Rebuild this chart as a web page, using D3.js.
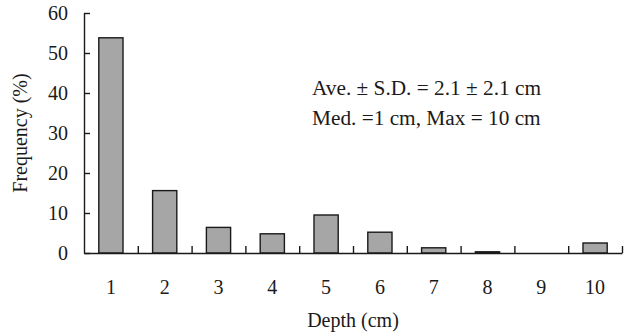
<!DOCTYPE html>
<html>
<head>
<meta charset="utf-8">
<script src="https://cdn.jsdelivr.net/npm/d3@7"></script>
<style>
  body { margin: 0; background: #fff; }
  svg text { font-family: "Liberation Serif", "Times New Roman", serif; fill: #1a1a1a; }
</style>
</head>
<body>
<div id="chart"></div>
<script>
// data
var depths = [1, 2, 3, 4, 5, 6, 7, 8, 9, 10];
var freq = [53.8, 15.6, 6.4, 4.8, 9.5, 5.2, 1.3, 0.3, 0, 2.5];
var yTicks = [0, 10, 20, 30, 40, 50, 60];
var notes = ["Ave. \u00b1 S.D. = 2.1 \u00b1 2.1 cm", "Med. =1 cm, Max = 10 cm"];

var width = 630, height = 335;
var plotLeft = 84, plotRight = 622, plotTop = 13, plotBottom = 253;

var svg = d3.select("#chart").append("svg")
    .attr("width", width)
    .attr("height", height);

var x = d3.scaleLinear().domain([0.5, 10.5]).range([plotLeft, plotRight]);
var y = d3.scaleLinear().domain([0, 60]).range([plotBottom, plotTop]);
var barW = (x(2) - x(1)) * 0.45;

// bars
svg.selectAll("rect.bar")
    .data(freq)
    .enter().append("rect")
    .attr("class", "bar")
    .attr("x", function(d, i){ return x(depths[i]) - barW / 2; })
    .attr("y", function(d){ return y(d); })
    .attr("width", barW)
    .attr("height", function(d){ return y(0) - y(d); })
    .style("fill", "#a6a6a6")
    .style("stroke", "#1a1a1a")
    .style("stroke-width", 1.4);

// y axis, ticks pointing inward
var yAxis = svg.append("g")
    .attr("transform", "translate(" + plotLeft + ",0)")
    .call(d3.axisLeft(y).tickValues(yTicks).tickSize(-6).tickSizeOuter(0).tickPadding(16));

// x axis, ticks between categories
var xAxis = svg.append("g")
    .attr("transform", "translate(0," + plotBottom + ")")
    .call(d3.axisBottom(x).tickValues(depths.map(function(d){ return d + 0.5; }))
        .tickSize(-7).tickSizeOuter(0).tickFormat(""));

svg.selectAll(".domain, .tick line")
    .style("stroke", "#1a1a1a")
    .style("stroke-width", 1.4);
yAxis.selectAll("text").style("font-size", "20px").style("font-family", "Liberation Serif");

// category labels
svg.selectAll("text.cat")
    .data(depths)
    .enter().append("text")
    .attr("class", "cat")
    .attr("x", function(d){ return x(d); })
    .attr("y", 294)
    .attr("text-anchor", "middle")
    .style("font-size", "20px")
    .text(function(d){ return d; });

// axis titles
svg.append("text")
    .attr("x", (plotLeft + plotRight) / 2)
    .attr("y", 327)
    .attr("text-anchor", "middle")
    .style("font-size", "20px")
    .text("Depth (cm)");

svg.append("text")
    .attr("transform", "translate(27," + (plotTop + plotBottom) / 2 + ") rotate(-90)")
    .attr("text-anchor", "middle")
    .style("font-size", "20px")
    .text("Frequency (%)");

// stats note
svg.selectAll("text.note")
    .data(notes)
    .enter().append("text")
    .attr("class", "note")
    .attr("x", 312)
    .attr("y", function(d, i){ return 95 + i * 30; })
    .style("font-size", "21.3px")
    .text(function(d){ return d; });
</script>
</body>
</html>
